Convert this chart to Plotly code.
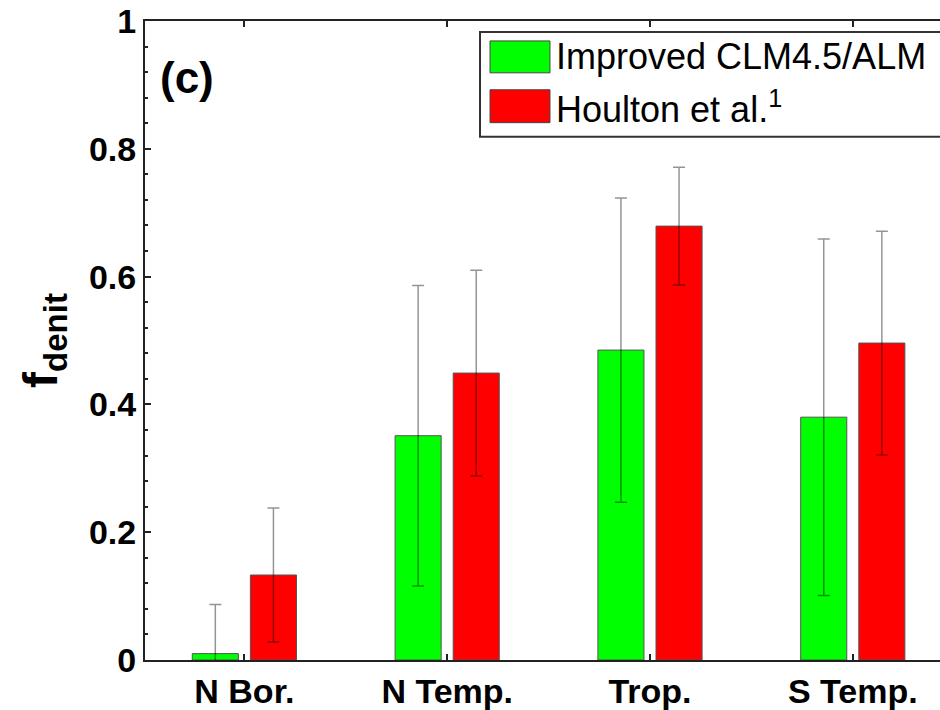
import plotly.graph_objects as go

categories = ["N Bor.", "N Temp.", "Trop.", "S Temp."]
model_vals = [0.010, 0.351, 0.485, 0.380]
model_err = [0.077, 0.235, 0.238, 0.279]
houlton_vals = [0.133, 0.449, 0.679, 0.496]
houlton_err = [0.105, 0.161, 0.092, 0.175]
series_names = ["Improved CLM4.5/ALM", "Houlton et al.<sup>1</sup>"]
y_ticks = [0, 0.2, 0.4, 0.6, 0.8, 1]
y_ticklabels = ["0", "0.2", "0.4", "0.6", "0.8", "1"]

FONT = "Liberation Sans, Arial, Helvetica, sans-serif"
err_style = dict(type="data", visible=True, color="rgba(0,0,0,0.42)", thickness=1.5, width=6)

fig = go.Figure()
fig.add_trace(go.Bar(
    x=categories, y=model_vals, name=series_names[0],
    marker=dict(color="#00ff00", line=dict(color="#555555", width=1)),
    error_y=dict(array=model_err, **err_style), showlegend=False))
fig.add_trace(go.Bar(
    x=categories, y=houlton_vals, name=series_names[1],
    marker=dict(color="#ff0000", line=dict(color="#555555", width=1)),
    error_y=dict(array=houlton_err, **err_style), showlegend=False))

tickfont = dict(family=FONT, size=34, color="black", weight="bold")

fig.update_layout(
    width=940, height=710,
    margin=dict(l=145, r=0, t=21, b=48),
    paper_bgcolor="white", plot_bgcolor="white",
    barmode="group", bargap=0.427, bargroupgap=0.207,
    font=dict(family=FONT, color="black"),
    xaxis=dict(
        type="category", range=[-0.49, 3.43],
        showline=True, linecolor="#222222", linewidth=2, mirror="ticks",
        ticks="inside", ticklen=6, tickwidth=2, tickcolor="#222222",
        tickfont=tickfont, showgrid=False, zeroline=False,
    ),
    yaxis=dict(
        range=[0, 1], tickvals=y_ticks, ticktext=y_ticklabels,
        showline=True, linecolor="#222222", linewidth=2, mirror=False,
        ticks="inside", ticklen=6, tickwidth=2, tickcolor="#222222",
        minor=dict(dtick=0.04, ticks="inside", ticklen=3, tickwidth=2, tickcolor="#222222"),
        tickfont=tickfont, showgrid=False, zeroline=False,
        title=dict(text="f<sub><span style='font-size:33px'>denit</span></sub>",
                   font=dict(family=FONT, size=48, color="black", weight="bold"), standoff=16),
    ),
)

# (c) panel label
fig.add_annotation(x=0.053, y=0.911, xref="paper", yref="paper", text="(c)",
                   xanchor="center", yanchor="middle", showarrow=False,
                   font=dict(family=FONT, size=44, color="black", weight="bold"))

# legend drawn as box + swatches + labels
fig.add_shape(type="rect", xref="paper", yref="paper", x0=0.4214, x1=1.06, y0=0.819, y1=0.9828,
              line=dict(color="#333333", width=2), fillcolor="white")
swatch_colors = ["#00ff00", "#ff0000"]
swatch_y = [(0.9189, 0.9688), (0.8409, 0.8924)]
text_y = [0.9438, 0.8658]
for name, col, (y0, y1), ty in zip(series_names, swatch_colors, swatch_y, text_y):
    fig.add_shape(type="rect", xref="paper", yref="paper", x0=0.434, x1=0.5094, y0=y0, y1=y1,
                  line=dict(color="#444444", width=1), fillcolor=col)
    fig.add_annotation(x=0.515, y=ty, xref="paper", yref="paper", text=name, showarrow=False,
                       xanchor="left", yanchor="middle",
                       font=dict(family=FONT, size=36, color="black"))

fig.write_html("out.html")
